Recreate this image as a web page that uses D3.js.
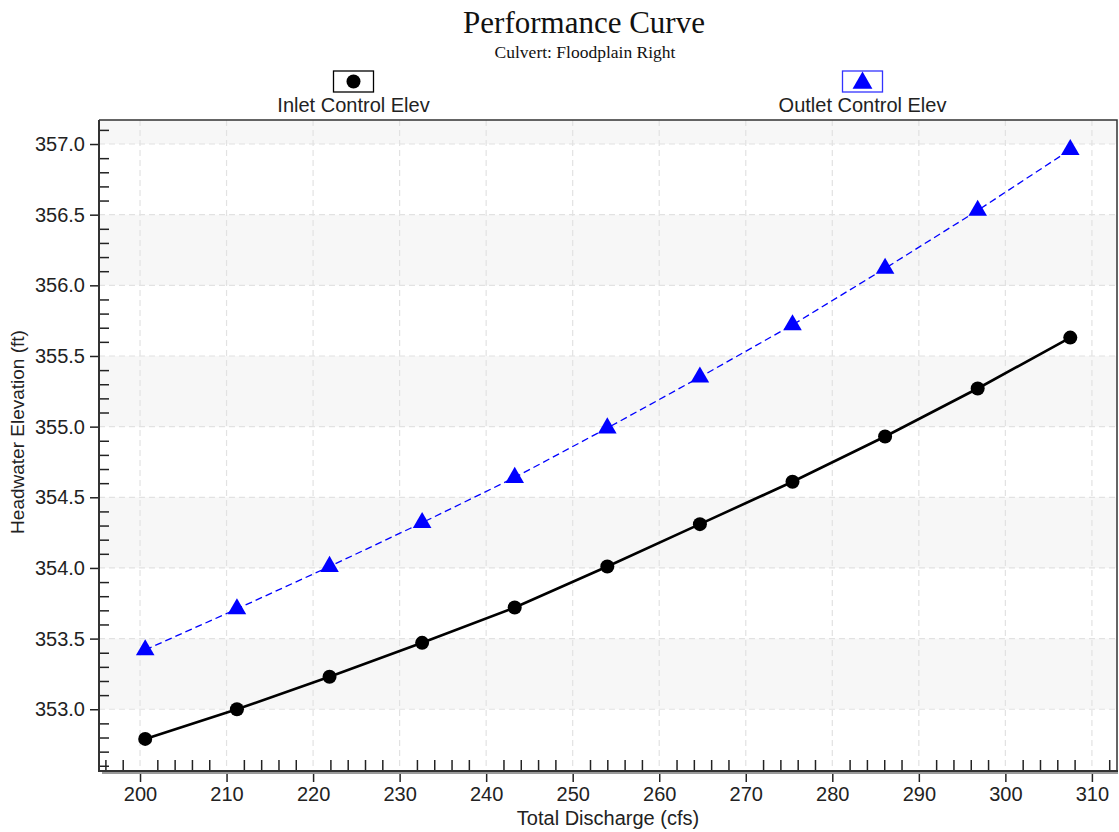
<!DOCTYPE html>
<html>
<head>
<meta charset="utf-8">
<script src="https://cdnjs.cloudflare.com/ajax/libs/d3/7.8.5/d3.min.js"></script>
<style>
  html, body { margin: 0; padding: 0; background: #fff; }
  svg { display: block; }
</style>
</head>
<body>
<svg id="chart" width="1119" height="832"></svg>
<script>
// Culvert performance curve: headwater elevation vs. total discharge
const discharge = [200.6, 211.2, 221.9, 232.6, 243.3, 254.0, 264.7, 275.4, 286.1, 296.8, 307.5];
const inletElev = [352.79, 353.00, 353.23, 353.47, 353.72, 354.01, 354.31, 354.61, 354.93, 355.27, 355.63];
const outletElev = [353.42, 353.71, 354.01, 354.32, 354.64, 354.99, 355.35, 355.72, 356.12, 356.53, 356.96];

const xTickValues = [200, 210, 220, 230, 240, 250, 260, 270, 280, 290, 300, 310];
const xMinorValues = [196, 198, 202, 204, 206, 208, 212, 214, 216, 218, 222, 224, 226, 228,
  232, 234, 236, 238, 242, 244, 246, 248, 252, 254, 256, 258, 262, 264, 266, 268,
  272, 274, 276, 278, 282, 284, 286, 288, 292, 294, 296, 298, 302, 304, 306, 308, 312];
const yTickValues = [353.0, 353.5, 354.0, 354.5, 355.0, 355.5, 356.0, 356.5, 357.0];
const yTickLabels = ["353.0", "353.5", "354.0", "354.5", "355.0", "355.5", "356.0", "356.5", "357.0"];
const yMinorValues = [352.6, 352.7, 352.8, 352.9, 353.1, 353.2, 353.3, 353.4, 353.6, 353.7, 353.8, 353.9,
  354.1, 354.2, 354.3, 354.4, 354.6, 354.7, 354.8, 354.9, 355.1, 355.2, 355.3, 355.4,
  355.6, 355.7, 355.8, 355.9, 356.1, 356.2, 356.3, 356.4, 356.6, 356.7, 356.8, 356.9, 357.1];
// shaded horizontal bands [from, to]
const bandStarts = [353.0, 354.0, 355.0, 356.0, 357.0];
const bandEnds = [353.5, 354.5, 355.5, 356.5, 357.17];

const seriesNames = ["Inlet Control Elev", "Outlet Control Elev"];

const svg = d3.select("#chart");
const plot = { left: 99, right: 1117, top: 120, bottom: 771 };

const x = d3.scaleLinear().domain([195.26, 312.9]).range([plot.left, plot.right]);
const y = d3.scaleLinear().domain([352.563, 357.17]).range([plot.bottom, plot.top]);

const sans = "Arial, 'Liberation Sans', sans-serif";
const serif = "'Times New Roman', 'Liberation Serif', serif";

// Title block
svg.append("text").attr("x", 584).attr("y", 33).attr("text-anchor", "middle")
  .attr("font-family", serif).attr("font-size", 31).attr("fill", "#111")
  .text("Performance Curve");
svg.append("text").attr("x", 585).attr("y", 58).attr("text-anchor", "middle")
  .attr("font-family", serif).attr("font-size", 17.5).attr("fill", "#111")
  .text("Culvert: Floodplain Right");

// Plot background and bands
svg.append("rect").attr("x", plot.left).attr("y", plot.top)
  .attr("width", plot.right - plot.left).attr("height", plot.bottom - plot.top)
  .attr("fill", "#ffffff");
svg.append("g").selectAll("rect").data(bandStarts).join("rect")
  .attr("x", plot.left)
  .attr("y", (d, i) => y(bandEnds[i]))
  .attr("width", plot.right - plot.left)
  .attr("height", (d, i) => y(d) - y(bandEnds[i]))
  .attr("fill", "#f7f7f7");

// Dashed grid
const grid = svg.append("g").attr("stroke", "#e2e2e2").attr("stroke-width", 1.2)
  .attr("stroke-dasharray", "6,4");
grid.selectAll("line.v").data(xTickValues).join("line").attr("class", "v")
  .attr("x1", d => x(d)).attr("x2", d => x(d))
  .attr("y1", plot.top).attr("y2", plot.bottom);
grid.selectAll("line.h").data(yTickValues).join("line").attr("class", "h")
  .attr("x1", plot.left).attr("x2", plot.right)
  .attr("y1", d => y(d)).attr("y2", d => y(d));

// Frame (top and right)
svg.append("path")
  .attr("d", `M${plot.left},${plot.top}H${plot.right}V${plot.bottom}`)
  .attr("fill", "none").attr("stroke", "#333").attr("stroke-width", 1.5);

// X axis: major ticks outward with labels, minor ticks inward
const xAxis = d3.axisBottom(x).tickValues(xTickValues).tickFormat(d3.format("d"))
  .tickSizeInner(11).tickSizeOuter(0).tickPadding(5);
const gx = svg.append("g").attr("transform", `translate(0,${plot.bottom})`).call(xAxis);
gx.select(".domain").remove();
gx.selectAll(".tick line").attr("stroke", "#222").attr("stroke-width", 1.5);
gx.selectAll(".tick text").attr("font-family", sans).attr("font-size", 20).attr("fill", "#222");

const xMinor = d3.axisTop(x).tickValues(xMinorValues).tickFormat("").tickSizeInner(11).tickSizeOuter(0);
const gxm = svg.append("g").attr("transform", `translate(0,${plot.bottom})`).call(xMinor);
gxm.select(".domain").remove();
gxm.selectAll(".tick line").attr("stroke", "#222").attr("stroke-width", 1.5);

// Y axis: major ticks outward with labels, minor ticks inward
const yAxis = d3.axisLeft(y).tickValues(yTickValues).tickFormat((d, i) => yTickLabels[i])
  .tickSizeInner(9).tickSizeOuter(0).tickPadding(5);
const gy = svg.append("g").attr("transform", `translate(${plot.left},0)`).call(yAxis);
gy.select(".domain").remove();
gy.selectAll(".tick line").attr("stroke", "#222").attr("stroke-width", 1.5);
gy.selectAll(".tick text").attr("font-family", sans).attr("font-size", 20).attr("fill", "#222");

const yMinor = d3.axisRight(y).tickValues(yMinorValues).tickFormat("").tickSizeInner(10).tickSizeOuter(0);
const gym = svg.append("g").attr("transform", `translate(${plot.left},0)`).call(yMinor);
gym.select(".domain").remove();
gym.selectAll(".tick line").attr("stroke", "#222").attr("stroke-width", 1.5);

// Axis lines (bottom one with a soft shadow)
svg.append("line").attr("x1", plot.left + 3).attr("x2", plot.right + 1)
  .attr("y1", plot.bottom + 2).attr("y2", plot.bottom + 2)
  .attr("stroke", "#999").attr("stroke-width", 2);
svg.append("line").attr("x1", plot.left).attr("x2", plot.right + 1)
  .attr("y1", plot.bottom).attr("y2", plot.bottom)
  .attr("stroke", "#333").attr("stroke-width", 2);
svg.append("line").attr("x1", plot.left).attr("x2", plot.left)
  .attr("y1", plot.top).attr("y2", plot.bottom + 1)
  .attr("stroke", "#333").attr("stroke-width", 2);

// Axis titles
svg.append("text").attr("x", 608).attr("y", 825).attr("text-anchor", "middle")
  .attr("font-family", sans).attr("font-size", 20).attr("fill", "#222")
  .text("Total Discharge (cfs)");
svg.append("text").attr("transform", "translate(24,432) rotate(-90)").attr("text-anchor", "middle")
  .attr("font-family", sans).attr("font-size", 19).attr("fill", "#222")
  .text("Headwater Elevation (ft)");

// Series
const inletPts = discharge.map((d, i) => [d, inletElev[i]]);
const outletPts = discharge.map((d, i) => [d, outletElev[i]]);
const line = d3.line().x(d => x(d[0])).y(d => y(d[1]));

svg.append("path").datum(outletPts).attr("d", line)
  .attr("fill", "none").attr("stroke", "#0000ff").attr("stroke-width", 1.3)
  .attr("stroke-dasharray", "7,4");
svg.append("path").datum(inletPts).attr("d", line)
  .attr("fill", "none").attr("stroke", "#000").attr("stroke-width", 2.6);

const tri = d3.symbol().type(d3.symbolTriangle).size(150);
svg.append("g").selectAll("path").data(outletPts).join("path")
  .attr("transform", d => `translate(${x(d[0])},${y(d[1])})`)
  .attr("d", tri).attr("fill", "#0000ff");
svg.append("g").selectAll("circle").data(inletPts).join("circle")
  .attr("cx", d => x(d[0])).attr("cy", d => y(d[1])).attr("r", 7).attr("fill", "#000");

// Legend
const legendX = [x.invert(plot.left + (plot.right - plot.left) * 0.25), x.invert(plot.left + (plot.right - plot.left) * 0.75)];
const leg = svg.append("g").selectAll("g").data(seriesNames).join("g")
  .attr("transform", (d, i) => `translate(${x(legendX[i])},0)`);
leg.append("rect").attr("x", -20).attr("y", 71).attr("width", 40).attr("height", 21)
  .attr("fill", "#fff").attr("stroke", (d, i) => i === 0 ? "#000" : "#3333ff").attr("stroke-width", 1.3);
leg.filter((d, i) => i === 0).append("circle").attr("cx", 0).attr("cy", 81.5).attr("r", 7).attr("fill", "#000");
leg.filter((d, i) => i === 1).append("path").attr("transform", "translate(0,83)")
  .attr("d", d3.symbol().type(d3.symbolTriangle).size(170)).attr("fill", "#0000ff");
leg.append("text").attr("x", 0).attr("y", 112).attr("text-anchor", "middle")
  .attr("font-family", sans).attr("font-size", 20).attr("fill", "#222")
  .text(d => d);
</script>
</body>
</html>
